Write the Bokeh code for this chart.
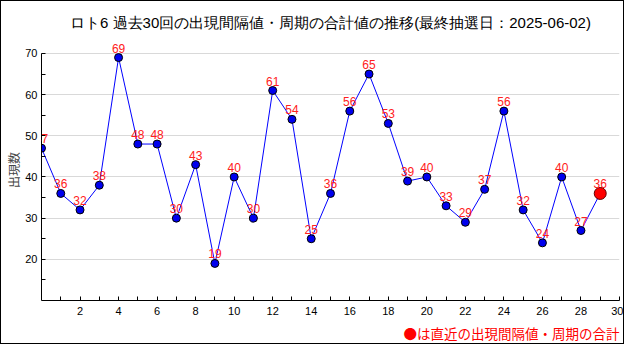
from bokeh.plotting import figure
from bokeh.models import FixedTicker, Range1d, Title, LabelSet, ColumnDataSource
from bokeh.embed import file_html
from bokeh.resources import INLINE
from bokeh.core.properties import value

# ---- data ----
draws = list(range(30))
totals = [47, 36, 32, 38, 69, 48, 48, 30, 43, 19,
          40, 30, 61, 54, 25, 36, 56, 65, 53, 39,
          40, 33, 29, 37, 56, 32, 24, 40, 27, 36]
x_major = [2, 4, 6, 8, 10, 12, 14, 16, 18, 20, 22, 24, 26, 28, 30]
x_minor = [1, 3, 5, 7, 9, 11, 13, 15, 17, 19, 21, 23, 25, 27, 29]
y_major = [20, 30, 40, 50, 60, 70]
y_minor = [15, 25, 35, 45, 55, 65]
title_text = "ロト6 過去30回の出現間隔値・周期の合計値の推移(最終抽選日：2025-06-02)"
y_label = "出現数"
note_text = "●は直近の出現間隔値・周期の合計"

JP = "Noto Sans CJK JP"
NUM = "Liberation Sans"

p = figure(width=624, height=344, output_backend="svg", toolbar_location=None,
           x_range=Range1d(0, 30), y_range=Range1d(10, 73.39),
           min_border_left=40, min_border_right=6, min_border_top=38,
           min_border_bottom=44, title=None)
p.outline_line_color = None
p.background_fill_color = "white"
p.border_fill_color = "white"
p.styles = {"border": "1px solid black"}

# title
t = Title(text=title_text, align="center", text_font=NUM, text_font_size="15px",
          text_font_style="normal", text_color="black", standoff=17)
p.add_layout(t, "above")

# axes
p.xaxis.ticker = FixedTicker(ticks=x_major, minor_ticks=x_minor)
p.yaxis.ticker = FixedTicker(ticks=y_major, minor_ticks=y_minor)
p.yaxis.bounds = (10, 70)
for ax in (p.xaxis, p.yaxis):
    ax.major_tick_in = 4
    ax.major_tick_out = 0
    ax.minor_tick_in = 4
    ax.minor_tick_out = 0
    ax.axis_line_color = "black"
    ax.major_tick_line_color = "black"
    ax.minor_tick_line_color = "black"
    ax.major_label_text_font = NUM
    ax.major_label_text_font_size = "11px"
    ax.major_label_text_color = "black"
p.xaxis.major_label_standoff = 6
p.yaxis.major_label_standoff = 4
p.yaxis.axis_label = y_label
p.yaxis.axis_label_text_font = JP
p.yaxis.axis_label_text_font_size = "12px"
p.yaxis.axis_label_text_font_style = "normal"
p.yaxis.axis_label_standoff = 0

p.xgrid.grid_line_color = None
p.ygrid.grid_line_color = "#d9d9d9"
p.ygrid.grid_line_width = 1

# series
p.line(draws, totals, line_color="#0000ff", line_width=1)
p.scatter(draws[:-1], totals[:-1], size=8, fill_color="#0000ee", line_color="black",
          line_width=1)
p.scatter(draws[-1:], totals[-1:], size=12, fill_color="#ff0000", line_color="#600000",
          line_width=1)

src = ColumnDataSource(dict(x=draws, y=totals, t=[str(v) for v in totals]))
labels = LabelSet(x="x", y="y", text="t", source=src, text_color="#ff2020",
                  text_align="center", text_baseline="bottom", y_offset=5,
                  text_font=value(NUM), text_font_size="12px")
p.add_layout(labels)

# note
n = Title(text=note_text, align="right", text_font=JP, text_font_size="13.5px",
          text_font_style="normal", text_color="red", standoff=6)
p.add_layout(n, "below")

open("out.html", "w").write(file_html(p, INLINE))
